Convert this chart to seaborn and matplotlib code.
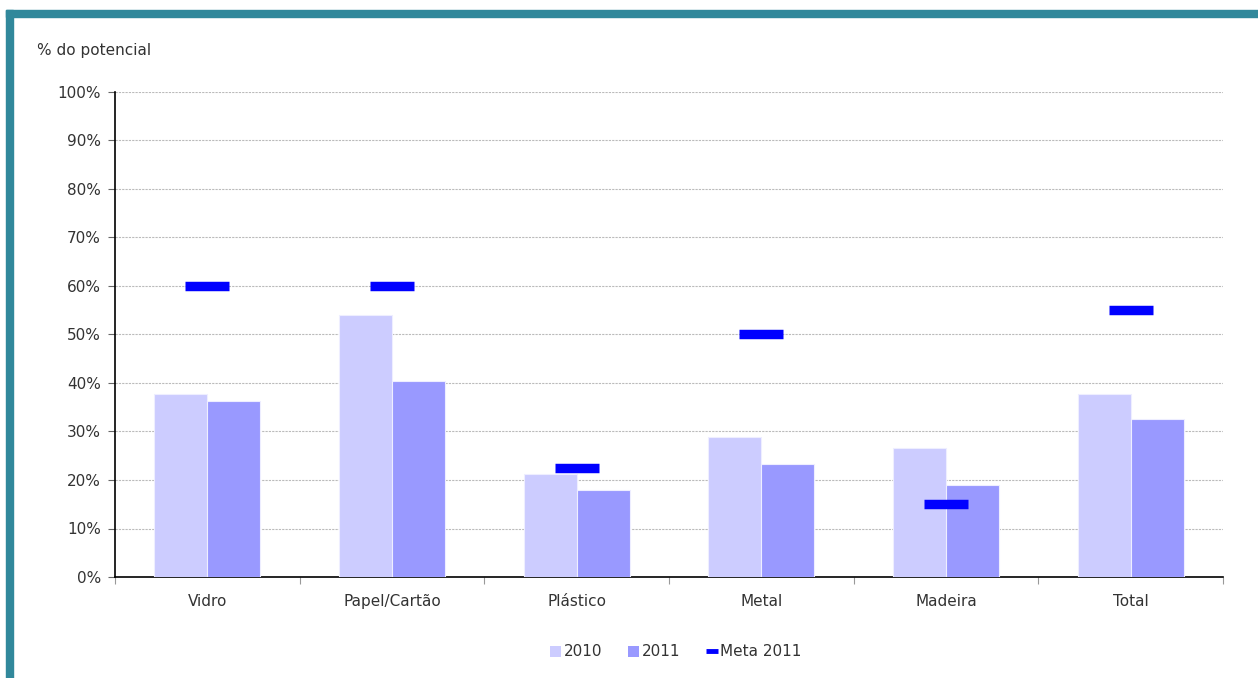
import pandas as pd
import numpy as np
import seaborn as sns
import matplotlib.pyplot as plt
from matplotlib.patches import Patch, Rectangle
from matplotlib.lines import Line2D
from matplotlib.ticker import FixedLocator

## Dados (% do potencial)
categorias = ['Vidro', 'Papel/Cartão', 'Plástico', 'Metal', 'Madeira', 'Total']
valores_2010 = [37.7, 54.0, 21.3, 28.9, 26.7, 37.7]
valores_2011 = [36.3, 40.4, 17.9, 23.3, 19.0, 32.5]
meta_2011 = [60, 60, 22.5, 50, 15, 55]
anos = ['2010', '2011']

cor_2010 = '#CCCCFF'
cor_2011 = '#9999FF'
cor_meta = '#0000FF'
cor_texto = '#333333'

df = pd.DataFrame({
    'categoria': categorias * 2,
    'ano': [anos[0]] * len(categorias) + [anos[1]] * len(categorias),
    'valor': valores_2010 + valores_2011,
})
df_meta = pd.DataFrame({'categoria': categorias, 'meta': meta_2011})

sns.set_style('white')
plt.rcParams['font.family'] = ['DejaVu Sans']

fig = plt.figure(figsize=(12.58, 6.78), dpi=100)
ax = fig.add_axes([115 / 1258, 1 - 577 / 678, 1108 / 1258, 485 / 678])

## Barras
sns.barplot(data=df, x='categoria', y='valor', hue='ano', order=categorias,
            palette=[cor_2010, cor_2011], saturation=1, width=0.575,
            edgecolor='#EEEEFF', linewidth=0.8, legend=False, ax=ax, zorder=3)

## Meta 2011
sns.pointplot(data=df_meta, x='categoria', y='meta', order=categorias,
              linestyle='none', marker='_', markersize=31, markeredgewidth=6.8,
              color=cor_meta, errorbar=None, ax=ax, zorder=4)

ax.set_xlim(-0.5, len(categorias) - 0.5)
ax.set_ylim(0, 100)
ax.set_yticks(np.arange(0, 101, 10))
ax.set_yticklabels([f'{v}%' for v in range(0, 101, 10)], color=cor_texto, fontsize=11)
ax.yaxis.grid(True, color='#BBBBBB', linewidth=0.8, linestyle=(0, (2, 1)), zorder=0)
ax.xaxis.grid(False)
ax.tick_params(axis='y', length=5, width=0.8, color='#666666', pad=5, left=True)

ax.set_xticks(range(len(categorias)))
ax.set_xticklabels(categorias, color=cor_texto, fontsize=11)
ax.tick_params(axis='x', which='major', length=0, pad=12)
ax.xaxis.set_minor_locator(FixedLocator(np.arange(-0.5, len(categorias), 1.0)))
ax.tick_params(axis='x', which='minor', length=5, width=0.8, color='#999999', bottom=True)

ax.set_xlabel('')
ax.set_ylabel('')
for lado in ['top', 'right']:
    ax.spines[lado].set_visible(False)
for lado in ['left', 'bottom']:
    ax.spines[lado].set_color('black')
    ax.spines[lado].set_linewidth(1.2)

## Legenda
handles = [
    Patch(facecolor=cor_2010, edgecolor='none', label='2010'),
    Patch(facecolor=cor_2011, edgecolor='none', label='2011'),
    Line2D([], [], color=cor_meta, marker='_', linestyle='none',
           markersize=8, markeredgewidth=3.5, label='Meta 2011'),
]
leg = fig.legend(handles=handles, loc='center', bbox_to_anchor=(676 / 1258, 1 - 652 / 678),
                 ncol=3, frameon=False, fontsize=11, handlelength=0.7, handleheight=0.7,
                 handletextpad=0.2, columnspacing=1.7)
for t in leg.get_texts():
    t.set_color(cor_texto)

## Titulo do eixo
fig.text(37 / 1258, 1 - 50 / 678, '% do potencial', color=cor_texto, fontsize=11,
         ha='left', va='center')

## Moldura
cor_moldura = '#31889B'
fig.patches.append(Rectangle((6 / 1258, 1 - 17 / 678), 1 - 6 / 1258, 7 / 678,
                             transform=fig.transFigure, color=cor_moldura, zorder=10))
fig.patches.append(Rectangle((6 / 1258, 0), 7 / 1258, 1 - 10 / 678,
                             transform=fig.transFigure, color=cor_moldura, zorder=10))

plt.savefig('out.png', dpi=100)
